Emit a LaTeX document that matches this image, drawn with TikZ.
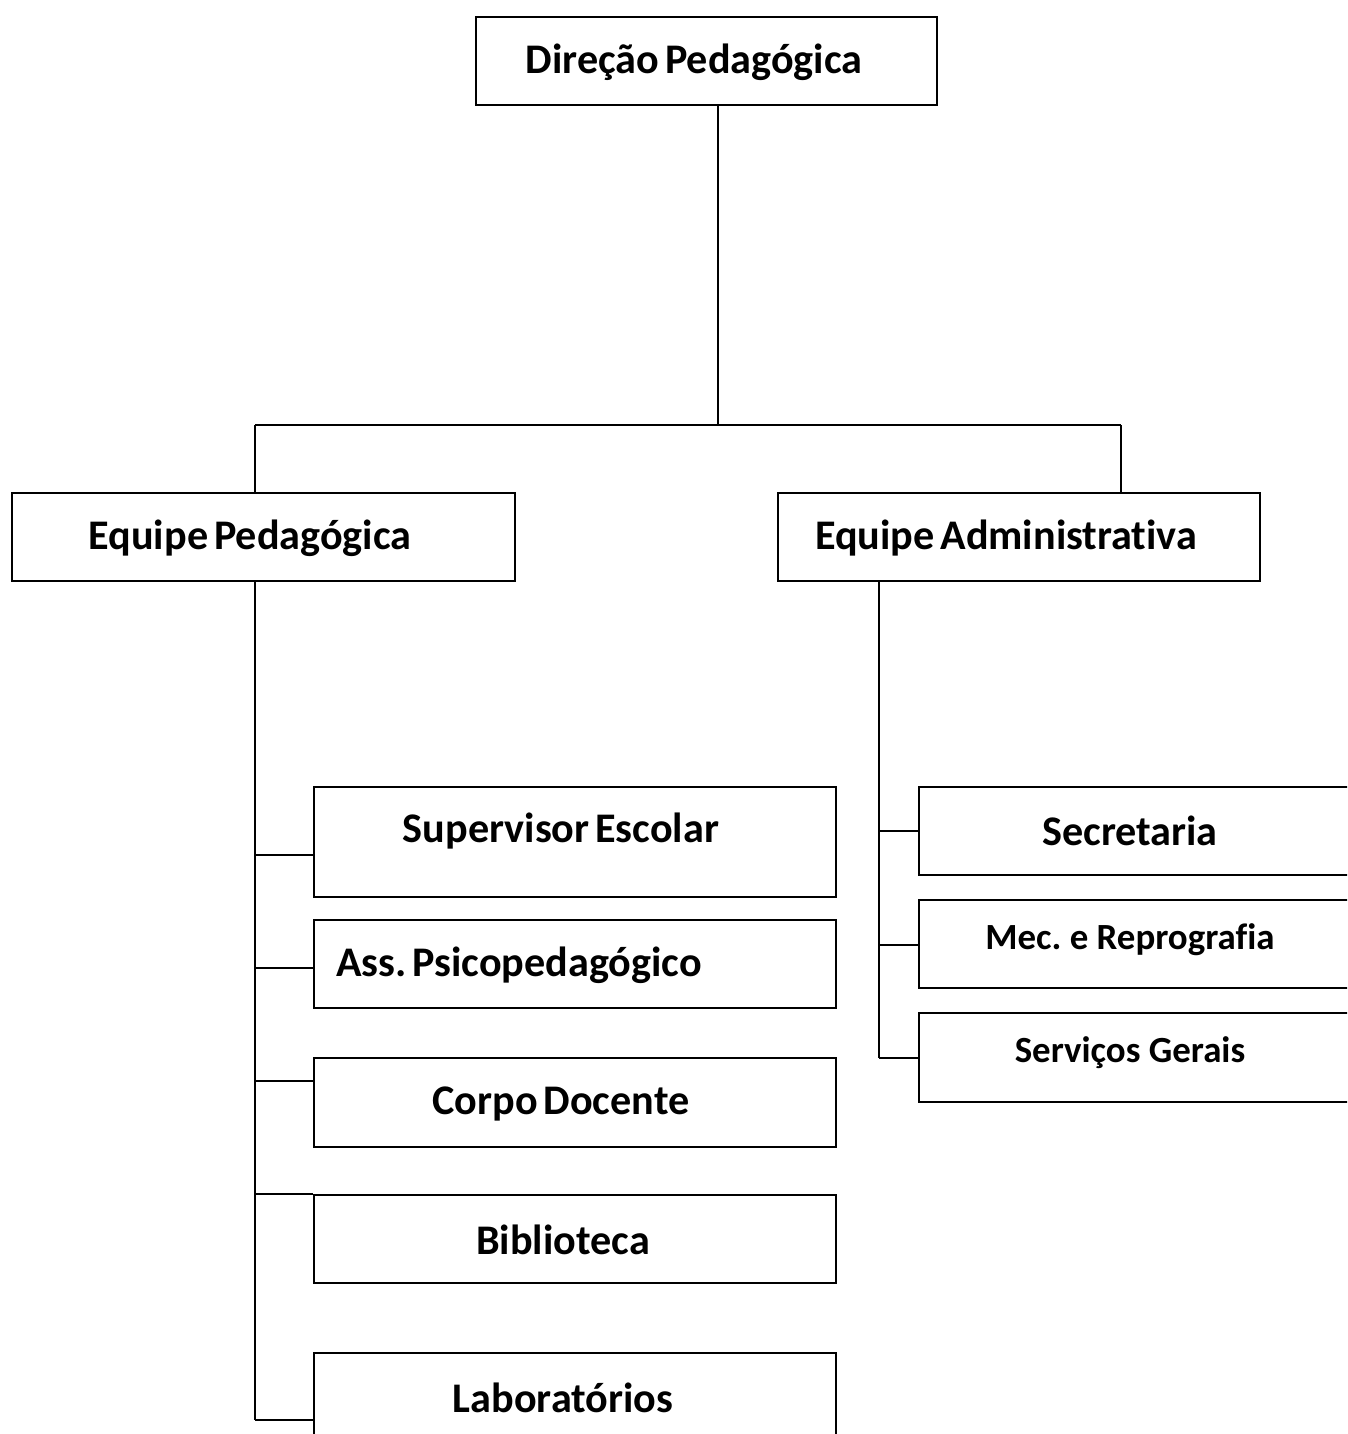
\documentclass[tikz,border=0pt]{standalone}
\usepackage{fontspec}
\setmainfont[Ligatures=NoCommon]{Carlito}
\usetikzlibrary{fit}
\newcommand\tightsp{\spaceskip 0.14em\relax}
\frenchspacing

\begin{document}
\begin{tikzpicture}[x=0.02cm,y=-0.02cm,line width=1pt]

\tikzset{box/.style = {draw, inner sep=0pt, fit=#1}}
\tikzset{txt/.style = {font=\fontsize{24}{28}\selectfont\bfseries\tightsp, inner sep=0pt}}
\tikzset{small/.style = {font=\fontsize{21}{25}\selectfont\bfseries, inner sep=0pt}}

\useasboundingbox (0,0) rectangle (1347,1434);
\clip (0,0) rectangle (1347,1434);

% boxes
\foreach \name/\a/\b in {dir/{476,17}/{937,105}, ped/{12,493}/{515,581}, adm/{778,493}/{1260,581},
  sup/{314,787}/{836,897}, ass/{314,920}/{836,1008}, doc/{314,1058}/{836,1147},
  bib/{314,1195}/{836,1283}, lab/{314,1353}/{836,1480},
  sec/{919,787}/{1380,875}, mec/{919,900}/{1380,988}, ger/{919,1013}/{1380,1102}}
\node[box={(\a) (\b)}] (\name) {};

% texts
\foreach \pos/\name/\t in {{(694,62)/dir-t/{Direção Pedagógica}}, {(250,538)/ped-t/{Equipe Pedagógica}},
  {(1006,538)/adm-t/{Equipe Administrativa}}, {(561,831)/sup-t/{Supervisor Escolar}},
  {(519,965)/ass-t/{Ass. Psicopedagógico}}, {(561,1104)/doc-t/{Corpo Docente}},
  {(563,1240)/bib-t/{Biblioteca}}, {(563,1398)/lab-t/{Laboratórios}},
  {(1130,831)/sec-t/{Secretaria}}}
\node[txt] (\name) at \pos {\t};
\node[small] (mec-t) at (1130,940) {Mec. e Reprografia};
\node[small] (ger-t) at (1130,1053) {Serviços Gerais};

% upper tree
\coordinate (top) at (718,425);
\coordinate (pl) at (255,425);
\coordinate (pr) at (1121,425);
\draw (dir.south -| top) -- (top);
\draw (pl) -- (pr);
\draw (pl) -- (pl |- ped.north);
\draw (pr) -- (pr |- adm.north);

% left trunk
\coordinate (lt) at (255,1420);
\draw (lt |- ped.south) -- (lt);
\foreach \y/\to in {855/sup, 968/ass, 1081/doc, 1194/bib, 1420/lab}
\draw (255,\y) -- (\to.west |- 0,\y);

% right trunk
\coordinate (rt) at (879,1058);
\draw (rt |- adm.south) -- (rt);
\foreach \y/\to in {831/sec, 945/mec, 1058/ger}
\draw (879,\y) -- (\to.west |- 0,\y);

\end{tikzpicture}
\end{document}
